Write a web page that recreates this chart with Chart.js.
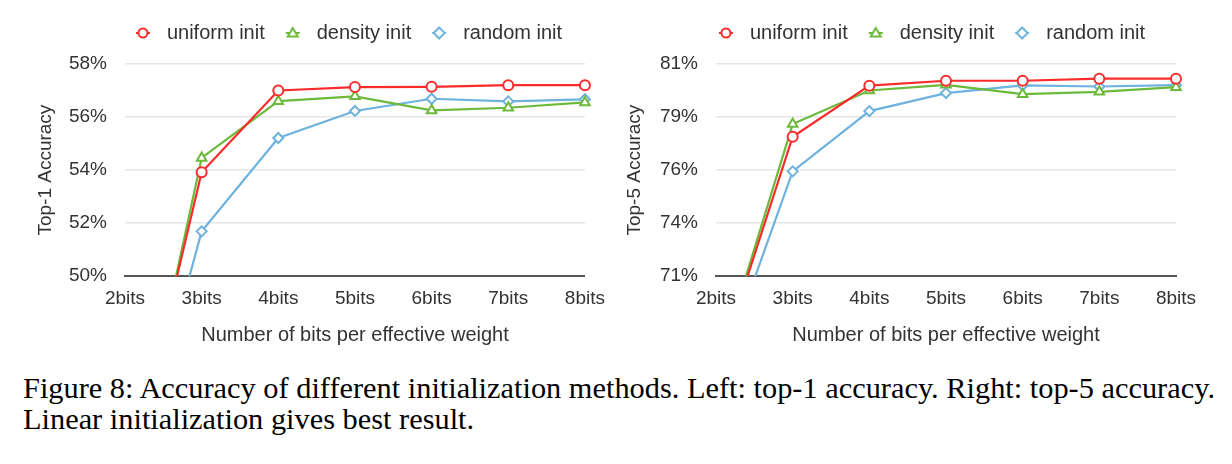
<!DOCTYPE html>
<html>
<head>
<meta charset="utf-8">
<script src="https://cdn.jsdelivr.net/npm/chart.js@4.4.1/dist/chart.umd.min.js"></script>
<style>
    html, body { margin: 0; padding: 0; background: #fff; }
    body { width: 1232px; height: 464px; position: relative; overflow: hidden; }
    .chart-box { position: absolute; top: 0; width: 616px; height: 350px; }
    #box-top1 { left: 0; }
    #box-top5 { left: 616px; }
    #caption {
        position: absolute; left: 23px; top: 372px;
        font-family: 'Liberation Serif', 'Times New Roman', Times, serif;
        font-size: 30px; line-height: 31px; color: #000;
        white-space: nowrap; transform-origin: 0 0;
    }
</style>
</head>
<body>
<div class="chart-box" id="box-top1"><canvas id="chart-top1"></canvas></div>
<div class="chart-box" id="box-top5"><canvas id="chart-top5"></canvas></div>
<div id="caption">
    <div id="caption-line1">Figure 8: Accuracy of different initialization methods. Left: top-1 accuracy. Right: top-5 accuracy.</div>
    <div>Linear initialization gives best result.</div>
</div>
<script>
const bitLabels = ['2bits', '3bits', '4bits', '5bits', '6bits', '7bits', '8bits'];

// top-1 (left)
const top1Uniform = [41.7, 53.92, 57.0, 57.13, 57.14, 57.2, 57.2];
const top1Density = [41.1, 54.46, 56.6, 56.78, 56.25, 56.35, 56.55];
const top1Random = [41.0, 51.69, 55.21, 56.23, 56.69, 56.59, 56.67];
const top1TickLabels = ['50%', '52%', '54%', '56%', '58%'];

// top-5 (right)
const top5Uniform = [66.4, 77.57, 79.98, 80.21, 80.21, 80.31, 80.31];
const top5Density = [66.4, 78.17, 79.75, 80.02, 79.58, 79.69, 79.91];
const top5Random = [65.8, 75.94, 78.78, 79.63, 79.99, 79.94, 80.0];
const top5TickLabels = ['71%', '74%', '76%', '79%', '81%'];

const RED = '#fa2b2b';
const GREEN = '#6db93c';
const BLUE = '#6eb2de';
const TEXT = '#333';

Chart.defaults.font.family = "'Liberation Sans', Arial, sans-serif";
Chart.defaults.color = TEXT;

// little "-o-" marker for the legend
function legendMarker(color, style) {
    const c = document.createElement('canvas');
    c.width = 16;
    c.height = 14;
    const ctx = c.getContext('2d');
    ctx.strokeStyle = color;
    ctx.lineWidth = 2;
    ctx.beginPath();
    ctx.moveTo(1, 7);
    ctx.lineTo(15, 7);
    ctx.stroke();
    ctx.fillStyle = '#fff';
    ctx.beginPath();
    if (style === 'circle') {
        ctx.arc(8, 7, 4.5, 0, Math.PI * 2);
    } else if (style === 'triangle') {
        ctx.moveTo(8, 2);
        ctx.lineTo(13, 10.5);
        ctx.lineTo(3, 10.5);
        ctx.closePath();
    } else {
        ctx.moveTo(8, 1.5);
        ctx.lineTo(13.5, 7);
        ctx.lineTo(8, 12.5);
        ctx.lineTo(2.5, 7);
        ctx.closePath();
    }
    ctx.fill();
    ctx.stroke();
    return c;
}

// moves the legend sideways and leaves a gap under it
function legendTweak(dx, extraHeight) {
    return {
        id: 'legendTweak',
        beforeInit(chart) {
            if (!chart.legend) return;
            const originalFit = chart.legend.fit;
            chart.legend.fit = function fit() {
                originalFit.bind(chart.legend)();
                this.height += extraHeight;
            };
        },
        afterLayout(chart) {
            chart.legend.left += dx;
            chart.legend.right += dx;
        },
    };
}

function makeDataset(label, data, color, style, radius) {
    return {
        label: label,
        data: data,
        borderColor: color,
        backgroundColor: '#fff',
        borderWidth: 2.2,
        pointStyle: style,
        pointRadius: radius,
        pointBorderWidth: 2,
        pointBackgroundColor: '#fff',
        pointBorderColor: color,
        tension: 0,
        legendMarker: legendMarker(color, style),
    };
}

function buildChart(canvasId, opts) {
    return new Chart(document.getElementById(canvasId), {
        type: 'line',
        data: {
            labels: bitLabels,
            datasets: [
                makeDataset('uniform init', opts.uniform, RED, 'circle', 5),
                makeDataset('density init', opts.density, GREEN, 'triangle', 5.5),
                makeDataset('random init', opts.random, BLUE, 'rectRot', 5),
            ],
        },
        options: {
            responsive: true,
            maintainAspectRatio: false,
            animation: false,
            layout: {
                padding: { left: opts.padLeft, right: opts.padRight, top: 9, bottom: 0 },
            },
            plugins: {
                tooltip: { enabled: false },
                legend: {
                    position: 'top',
                    labels: {
                        usePointStyle: true,
                        pointStyleWidth: 28,
                        boxHeight: 14,
                        padding: 14,
                        color: TEXT,
                        font: { size: 20 },
                        generateLabels: function (chart) {
                            return chart.data.datasets.map((ds, i) => ({
                                text: ds.label,
                                pointStyle: ds.legendMarker,
                                fillStyle: '#fff',
                                strokeStyle: ds.borderColor,
                                lineWidth: 0,
                                fontColor: TEXT,
                                hidden: false,
                                datasetIndex: i,
                            }));
                        },
                    },
                },
            },
            scales: {
                x: {
                    grid: { display: false, drawTicks: false },
                    border: { display: true, color: '#555', width: 2 },
                    ticks: {
                        color: TEXT,
                        font: { size: 19 },
                        padding: 11,
                        maxRotation: 0,
                        autoSkip: false,
                    },
                    title: {
                        display: true,
                        text: 'Number of bits per effective weight',
                        color: TEXT,
                        font: { size: 20 },
                        padding: { top: 2, bottom: 3 },
                    },
                },
                y: {
                    min: opts.min,
                    max: opts.max,
                    grid: { color: '#e6e6e6', lineWidth: 1.5, drawTicks: false },
                    border: { display: false },
                    ticks: {
                        stepSize: opts.step,
                        color: TEXT,
                        font: { size: 19 },
                        padding: 18,
                        callback: function (value, index) {
                            return opts.tickLabels[index];
                        },
                    },
                    title: {
                        display: true,
                        text: opts.yTitle,
                        color: TEXT,
                        font: { size: 19 },
                        padding: { top: 4, bottom: 4 },
                    },
                    afterFit: function (scale) {
                        scale.width = opts.axisWidth;
                    },
                },
            },
        },
        plugins: [legendTweak(opts.legendDx, 11)],
    });
}

buildChart('chart-top1', {
    uniform: top1Uniform,
    density: top1Density,
    random: top1Random,
    tickLabels: top1TickLabels,
    yTitle: 'Top-1 Accuracy',
    min: 50, max: 58, step: 2,
    padLeft: 30, padRight: 31, axisWidth: 95,
    legendDx: 38,
});

buildChart('chart-top5', {
    uniform: top5Uniform,
    density: top5Density,
    random: top5Random,
    tickLabels: top5TickLabels,
    yTitle: 'Top-5 Accuracy',
    min: 71, max: 81, step: 2.5,
    padLeft: 3, padRight: 56, axisWidth: 97,
    legendDx: 31,
});

// fit the first caption line to the width it has in the figure
const line1 = document.getElementById('caption-line1');
const naturalWidth = line1.getBoundingClientRect().width;
document.getElementById('caption').style.transform = 'scaleX(' + (1192 / naturalWidth) + ')';
</script>
</body>
</html>
